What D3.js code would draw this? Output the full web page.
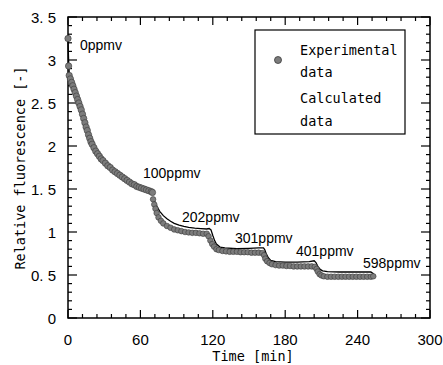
<!DOCTYPE html>
<html><head><meta charset="utf-8">
<script src="https://cdn.jsdelivr.net/npm/d3@7"></script>
<style>body{margin:0;background:#fff}svg{display:block}</style>
</head><body><svg id="c" width="443" height="365"></svg>
<script>
// ---- data ----
const expTime = [0,0.5,1,2,3,4,5,6,7,8,9,10,11,12,13,14,15,16,17,18,19,20,21.5,23,24.5,26,27.5,29,31,33,35,37,39,41,43,45,47,49,51,53,55,57,59,61,63,65,67,69,70,
  70.5,71.5,72.5,73.5,75,77,79,82,85,88,91,94,97,100,103,106,109,112,115,116.5,118,119.5,121,123,125,128,131,134,137,140,143,146,149,152,155,158,161,162.5,163.5,165,167,169,172,175,178,181,184,187,190,193,196,199,202,204.5,206,207,208.5,210,212,215,218,221,224,227,230,233,236,239,242,245,248,251,253];
const expValue = [3.25,2.93,2.82,2.78,2.74,2.70,2.66,2.62,2.58,2.54,2.50,2.46,2.42,2.37,2.32,2.27,2.22,2.18,2.13,2.09,2.05,2.02,1.98,1.94,1.91,1.88,1.85,1.83,1.80,1.77,1.75,1.72,1.70,1.68,1.66,1.64,1.62,1.60,1.58,1.56,1.55,1.53,1.52,1.51,1.50,1.49,1.48,1.47,1.46,
  1.38,1.32,1.27,1.22,1.17,1.13,1.10,1.07,1.05,1.03,1.02,1.01,1.00,0.995,0.99,0.99,0.985,0.98,0.98,0.95,0.90,0.86,0.83,0.80,0.79,0.78,0.775,0.77,0.77,0.77,0.765,0.765,0.765,0.76,0.76,0.76,0.755,0.73,0.69,0.66,0.64,0.625,0.615,0.61,0.61,0.605,0.605,0.60,0.60,0.60,0.60,0.60,0.60,0.595,0.57,0.54,0.51,0.495,0.485,0.48,0.48,0.48,0.48,0.48,0.48,0.48,0.48,0.48,0.48,0.48,0.48,0.48,0.485];
const calcTime = [0,0.5,1,2,4,6,8,10,13,16,20,25,30,35,40,45,50,55,60,65,70,null,
  71,72,74,76,79,82,85,88,92,96,100,105,110,115,117,118.5,120,121.5,123,126,130,140,150,158,162,163,164.5,166,168,172,180,190,200,204,205.5,207,209,211,215,225,240,251,253,253.5];
const calcValue = [3.22,3.0,2.85,2.77,2.68,2.60,2.52,2.44,2.31,2.17,2.02,1.90,1.81,1.75,1.69,1.63,1.58,1.54,1.51,1.49,1.47,null,
  1.38,1.35,1.29,1.24,1.19,1.155,1.125,1.10,1.08,1.065,1.055,1.045,1.04,1.035,1.04,1.025,0.96,0.90,0.86,0.825,0.815,0.805,0.81,0.815,0.815,0.795,0.74,0.70,0.67,0.655,0.65,0.65,0.655,0.665,0.645,0.60,0.565,0.548,0.54,0.535,0.535,0.535,0.515,0.49];
const xTicks = [0,60,120,180,240,300];
const yTicks = [0,0.5,1,1.5,2,2.5,3,3.5];
const yTickLabels = ["0","0. 5","1","1. 5","2","2. 5","3","3. 5"];
const annotations = ["0ppmv","100ppmv","202ppmv","301ppmv","401ppmv","598ppmv"];
const legendLabels = [["Experimental","data"],["Calculated","data"]];

// ---- layout ----
const svg = d3.select("#c");
const L=68,R=430,T=17,B=318;
const x = d3.scaleLinear().domain([0,300]).range([L,R]);
const y = d3.scaleLinear().domain([0,3.5]).range([B,T]);
const sans = "'Liberation Sans', Arial, sans-serif";
const mono = "'DejaVu Sans Mono', monospace";

// ticks
const xMinor = d3.range(0,301,12), yMinor = d3.range(0,3.51,0.1);
const tg = svg.append("g").attr("stroke","#000").attr("stroke-width",1.2);
xMinor.forEach(v=>{
  const maj = xTicks.some(t=>Math.abs(t-v)<1e-6), len = maj?8:4;
  tg.append("line").attr("x1",x(v)).attr("x2",x(v)).attr("y1",B).attr("y2",B-len);
  tg.append("line").attr("x1",x(v)).attr("x2",x(v)).attr("y1",T).attr("y2",T+len);
});
yMinor.forEach(v=>{
  const maj = yTicks.some(t=>Math.abs(t-v)<1e-6), len = maj?9:4;
  tg.append("line").attr("y1",y(v)).attr("y2",y(v)).attr("x1",L).attr("x2",L+len);
  tg.append("line").attr("y1",y(v)).attr("y2",y(v)).attr("x1",R).attr("x2",R-len);
});
svg.append("rect").attr("x",L).attr("y",T).attr("width",R-L).attr("height",B-T)
  .attr("fill","none").attr("stroke","#000").attr("stroke-width",1.5);

// tick labels
svg.append("g").selectAll("text").data(xTicks).join("text")
  .attr("x",d=>x(d)).attr("y",345).attr("text-anchor","middle")
  .attr("font-family",sans).attr("font-size",15).text(d=>d);
svg.append("g").selectAll("text").data(yTicks).join("text")
  .attr("x",56).attr("y",d=>y(d)+5.5).attr("text-anchor","end")
  .attr("font-family",sans).attr("font-size",15).text((d,i)=>yTickLabels[i]);

// axis titles
svg.append("text").attr("x",253).attr("y",361).attr("text-anchor","middle")
  .attr("font-family",mono).attr("font-size",13.5).text("Time [min]");
svg.append("text").attr("transform","translate(25,168) rotate(-90)").attr("text-anchor","middle")
  .attr("font-family",mono).attr("font-size",13.5).text("Relative fluorescence [-]");

// calculated line
const calc = calcTime.map((t,i)=>[t,calcValue[i]]);
svg.append("path").datum(calc)
  .attr("d",d3.line().defined(d=>d[0]!==null).x(d=>x(d[0])).y(d=>y(d[1])))
  .attr("fill","none").attr("stroke","#000").attr("stroke-width",1.3);

// experimental dots
svg.append("g").selectAll("circle").data(expTime).join("circle")
  .attr("cx",d=>x(d)).attr("cy",(d,i)=>y(expValue[i])).attr("r",d=>d<=70?3.2:2.8)
  .attr("fill","#7c7c7c").attr("stroke","#3a3a3a").attr("stroke-width",0.6);

// annotations
const annX=[80,143,182,235,296,363], annY=[50,178,222,243,256,268];
svg.append("g").selectAll("text").data(annotations).join("text")
  .attr("x",(d,i)=>annX[i]).attr("y",(d,i)=>annY[i])
  .attr("font-family",sans).attr("font-size",14).text(d=>d);

// legend
svg.append("rect").attr("x",255).attr("y",30).attr("width",150).attr("height",104)
  .attr("fill","#fff").attr("stroke","#000").attr("stroke-width",1.2);
svg.append("circle").attr("cx",278).attr("cy",60).attr("r",3.5)
  .attr("fill","#7c7c7c").attr("stroke","#3a3a3a").attr("stroke-width",0.8);
const legY=[[55,77],[103,126]];
legendLabels.forEach((lines,i)=>lines.forEach((s,j)=>{
  svg.append("text").attr("x",300).attr("y",legY[i][j]).attr("font-family",mono)
    .attr("font-size",13.5).text(s);
}));
</script></body></html>
